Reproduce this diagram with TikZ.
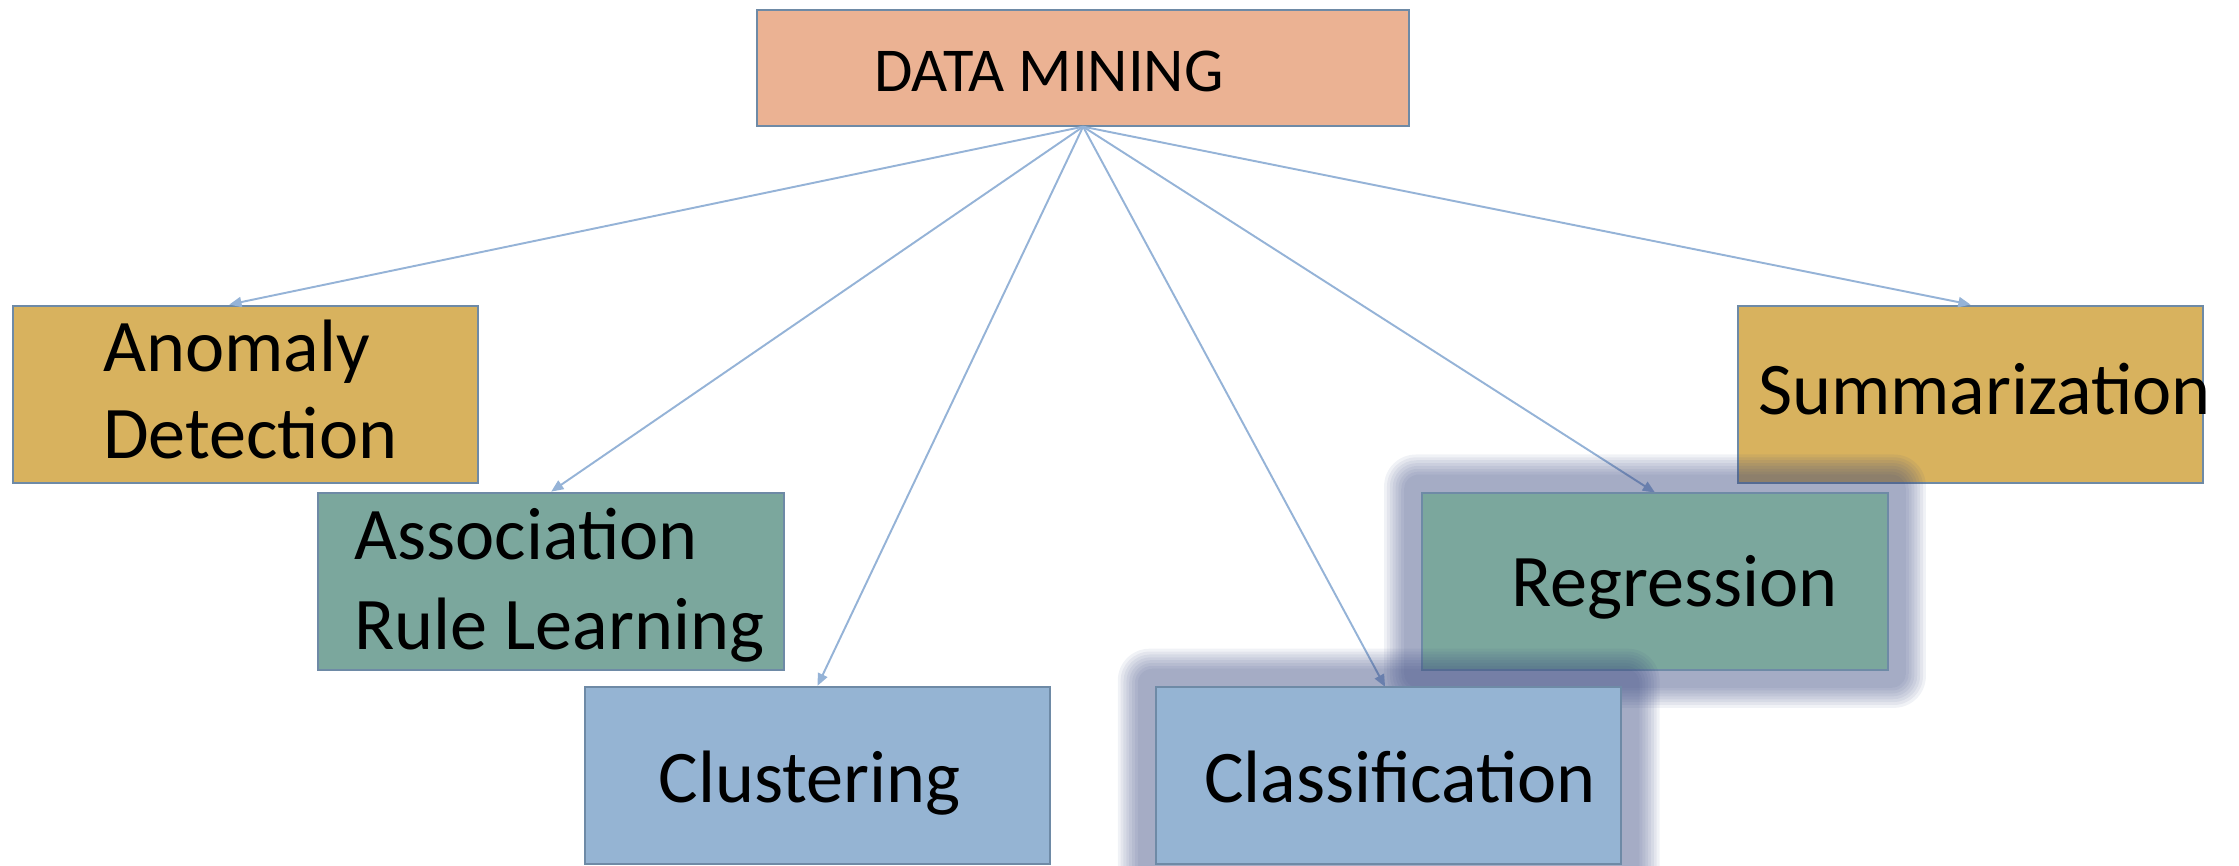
\documentclass[tikz,border=0pt]{standalone}
\usepackage{fontspec}
\setmainfont{Carlito}
\usetikzlibrary{arrows.meta,calc}

\definecolor{rootfill}{HTML}{EBB293}
\definecolor{goldfill}{HTML}{D8B25E}
\definecolor{tealfill}{HTML}{7BA79D}
\definecolor{bluefill}{HTML}{95B4D3}
\definecolor{boxline}{HTML}{6E8AA6}
\definecolor{linkcol}{HTML}{95B3D7}
\definecolor{halocol}{HTML}{3C4B82}

% soft glow around a node, built from stacked translucent rounded rectangles
\newcommand\haloaround[1]{%
  \foreach \d in {12,14,...,26}{%
    \fill[halocol, fill opacity=0.075, rounded corners=\d*0.6pt]
      ($(#1.south west)+(-\d,\d)$) rectangle ($(#1.north east)+(\d,-\d)$);
  }%
}

\begin{document}
\begin{tikzpicture}[x=0.7pt,y=-0.7pt,
  box/.style={draw=boxline, line width=1pt, rectangle, inner sep=0pt,
              minimum width=228.2pt, minimum height=86.8pt},
  rootbox/.style={box, fill=rootfill, minimum width=319.9pt, minimum height=56.7pt},
  lbl/.style={anchor=base west, inner sep=0pt, font=\fontsize{36.4}{44}\selectfont},
  rootlbl/.style={anchor=base west, inner sep=0pt, font=\fontsize{30.6}{36}\selectfont},
  link/.style={draw=linkcol, line width=0.95pt, -{Triangle[length=6pt,width=5pt]}}]

\useasboundingbox (0,0) rectangle (1568,606);

% boxes (positions of centres)
\node[rootbox] (dm) at (758.5,47.5) {};
\node[box, fill=goldfill] (anom) at (172,276) {};
\node[box, fill=goldfill] (summ) at (1380,276) {};
\node[box, fill=tealfill] (assoc) at (386,407) {};
\node[box, fill=bluefill] (clus) at (572.5,543) {};

% connectors from the root
\draw[link] (dm.south) -- ([xshift=-8pt]anom.north);
\draw[link] (dm.south) -- (assoc.north);
\draw[link] (dm.south) -- (clus.north);
\draw[link] (dm.south) -- (summ.north);
\coordinate (regtop) at (1159,345);
\coordinate (clatop) at (970,481);
\draw[link] (dm.south) -- (regtop);
\draw[link] (dm.south) -- (clatop);

% highlighted boxes with a glow
\path (1159,407) node[box, draw=none] (regshape) {};
\haloaround{regshape}
\node[box, fill=tealfill] (regr) at (1159,407) {};
\path (972.5,543) node[box, draw=none] (clashape) {};
\haloaround{clashape}
\node[box, fill=bluefill] (class) at (972.5,543) {};

% labels
\node[rootlbl] (tdm) at (612,64) {DATA MINING};
\node[lbl] (tanom1) at (72,260) {Anomaly};
\node[lbl] (tanom2) at (72,321) {Detection};
\node[lbl] (tassoc1) at (248,392) {Association};
\node[lbl] (tassoc2) at (248,455) {Rule Learning};
\node[lbl] (tclus) at (461,562) {Clustering};
\node[lbl] (tclass) at (843,562) {Classification};
\node[lbl] (tregr) at (1058,425) {Regression};
\node[lbl] (tsumm) at (1231,290) {Summarization};
\end{tikzpicture}
\end{document}
